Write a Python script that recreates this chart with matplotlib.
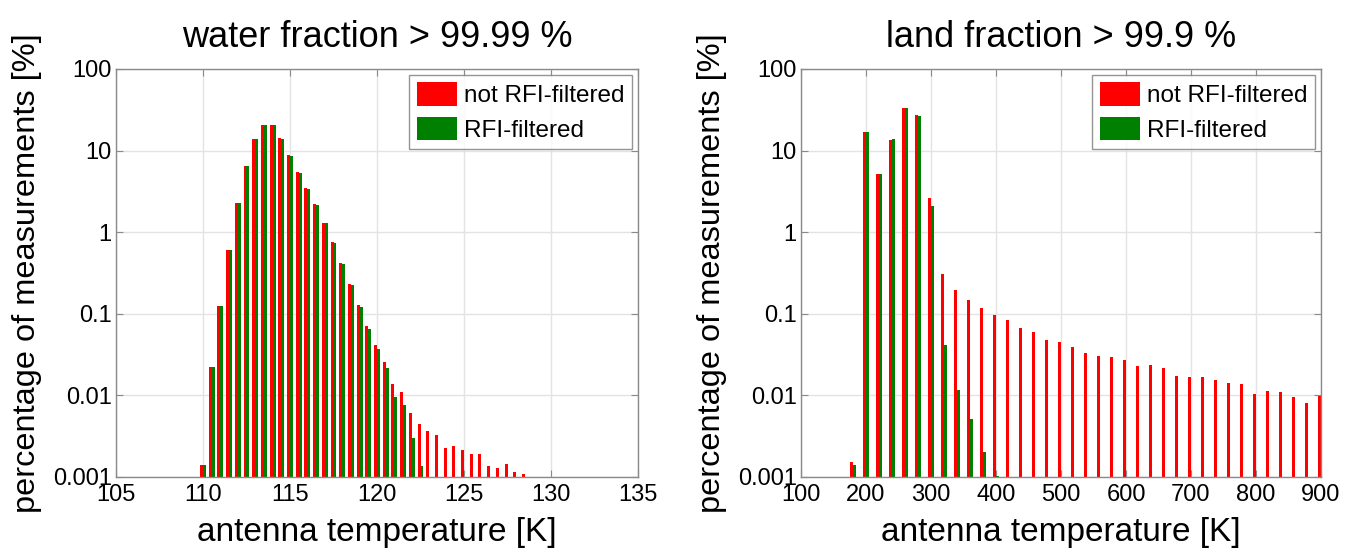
import numpy as np
import matplotlib
matplotlib.use("Agg")
import matplotlib.pyplot as plt
from matplotlib.ticker import FixedLocator, FixedFormatter, NullLocator

plt.rcParams['font.family'] = ['Liberation Sans', 'DejaVu Sans']

# ---------------- data ----------------
water_temp = [110.0, 110.5, 111.0, 111.5, 112.0, 112.5, 113.0, 113.5, 114.0, 114.5,
              115.0, 115.5, 116.0, 116.5, 117.0, 117.5, 118.0, 118.5, 119.0, 119.5,
              120.0, 120.5, 121.0, 121.5, 122.0, 122.5, 123.0, 123.5, 124.0, 124.5,
              125.0, 125.5, 126.0, 126.5, 127.0, 127.5, 128.0, 128.5]
water_not_filtered = [0.0014, 0.022, 0.123, 0.61, 2.26, 6.4, 13.8, 20.8, 20.8, 14.3,
                      8.8, 5.4, 3.46, 2.2, 1.31, 0.755, 0.42, 0.233, 0.129, 0.0706,
                      0.042, 0.0256, 0.0139, 0.011, 0.0061, 0.0045, 0.0037, 0.00325, 0.00226, 0.00239,
                      0.00213, 0.00193, 0.00193, 0.00135, 0.00129, 0.00144, 0.00114, 0.0011]
water_filtered = [0.0014, 0.022, 0.123, 0.61, 2.26, 6.4, 13.8, 20.8, 20.5, 14.0,
                  8.6, 5.3, 3.4, 2.15, 1.28, 0.74, 0.41, 0.225, 0.121, 0.065,
                  0.037, 0.0217, 0.0095, 0.0077, 0.0030, 0.00137, 0, 0, 0, 0,
                  0, 0, 0, 0, 0, 0, 0, 0]

land_temp = [180, 200, 220, 240, 260, 280, 300, 320, 340, 360, 380, 400,
             420, 440, 460, 480, 500, 520, 540, 560, 580, 600, 620, 640, 660,
             680, 700, 720, 740, 760, 780, 800, 820, 840, 860, 880, 900]
land_not_filtered = [0.00153, 17.1, 5.13, 13.4, 33.7, 27.1, 2.63, 0.309, 0.193, 0.146, 0.117, 0.096,
                     0.083, 0.0664, 0.0593, 0.0474, 0.0449, 0.0387, 0.0327, 0.0300, 0.0295, 0.0274,
                     0.0229, 0.0233, 0.0215, 0.0173, 0.0167, 0.0166, 0.0154, 0.0141, 0.0139, 0.0104,
                     0.0114, 0.0110, 0.0095, 0.0080, 0.0099]
land_filtered = [0.00142, 17.1, 5.13, 13.7, 33.0, 26.3, 2.10, 0.041, 0.0115, 0.0051, 0.00202, 0.00103,
                 0, 0, 0, 0, 0, 0, 0, 0, 0, 0, 0, 0, 0, 0, 0, 0, 0, 0, 0, 0, 0, 0, 0, 0, 0]

y_ticks = [0.001, 0.01, 0.1, 1, 10, 100]
y_tick_labels = ['0.001', '0.01', '0.1', '1', '10', '100']
water_xticks = [105, 110, 115, 120, 125, 130, 135]
land_xticks = [100, 200, 300, 400, 500, 600, 700, 800, 900]

titles = ['water fraction > 99.99 %', 'land fraction > 99.9 %']
series_labels = ['not RFI-filtered', 'RFI-filtered']
xlabel = 'antenna temperature [K]'
ylabel = 'percentage of measurements [%]'

RED = '#ff0000'
GREEN = '#008000'
SPINE = '#8a8a8a'
GRID = '#e3e3e3'

fig = plt.figure(figsize=(13.45, 5.52), dpi=100)
ax1 = fig.add_axes([116/1345, 75/552, 522/1345, 408/552])
ax2 = fig.add_axes([801/1345, 75/552, 520/1345, 408/552])


def style(ax, xt, xlim, title):
    ax.set_yscale('log')
    ax.set_ylim(0.001, 100)
    ax.set_xlim(*xlim)
    ax.yaxis.set_major_locator(FixedLocator(y_ticks))
    ax.yaxis.set_major_formatter(FixedFormatter(y_tick_labels))
    ax.yaxis.set_minor_locator(NullLocator())
    ax.set_xticks(xt)
    ax.set_xticklabels([str(v) for v in xt])
    ax.tick_params(axis='both', which='major', direction='in', length=5, width=0.8,
                   color=SPINE, labelsize=17, top=True, right=True, pad=3)
    ax.tick_params(axis='x', pad=5)
    ax.grid(True, color=GRID, linewidth=1.0, linestyle='-')
    ax.set_axisbelow(True)
    for s in ax.spines.values():
        s.set_color(SPINE)
        s.set_linewidth(1.0)
    ax.set_title(title, fontsize=26, pad=16)
    ax.set_xlabel(xlabel, fontsize=24, labelpad=8)
    ax.set_ylabel(ylabel, fontsize=23.4, labelpad=8)


# left panel
wt = np.array(water_temp)
bw = 0.17
ax1.bar(wt - bw / 2, water_not_filtered, width=bw, color=RED, label=series_labels[0], linewidth=0)
ax1.bar(wt + bw / 2, water_filtered, width=bw, color=GREEN, label=series_labels[1], linewidth=0)
style(ax1, water_xticks, (105, 135), titles[0])

# right panel
lt = np.array(land_temp, dtype=float)
bw2 = 4.2
ax2.bar(lt - bw2 / 2, land_not_filtered, width=bw2, color=RED, label=series_labels[0], linewidth=0)
ax2.bar(lt + bw2 / 2, land_filtered, width=bw2, color=GREEN, label=series_labels[1], linewidth=0)
style(ax2, land_xticks, (100, 900), titles[1])

for ax in (ax1, ax2):
    leg = ax.legend(loc='upper right', fontsize=17.5, frameon=True, fancybox=False,
                    handlelength=1.65, handleheight=1.1, handletextpad=0.3,
                    labelspacing=0.4, borderpad=0.3, borderaxespad=0.25)
    leg.get_frame().set_edgecolor('#7a7a7a')
    leg.get_frame().set_linewidth(1.0)

fig.savefig('out.png', dpi=100)
